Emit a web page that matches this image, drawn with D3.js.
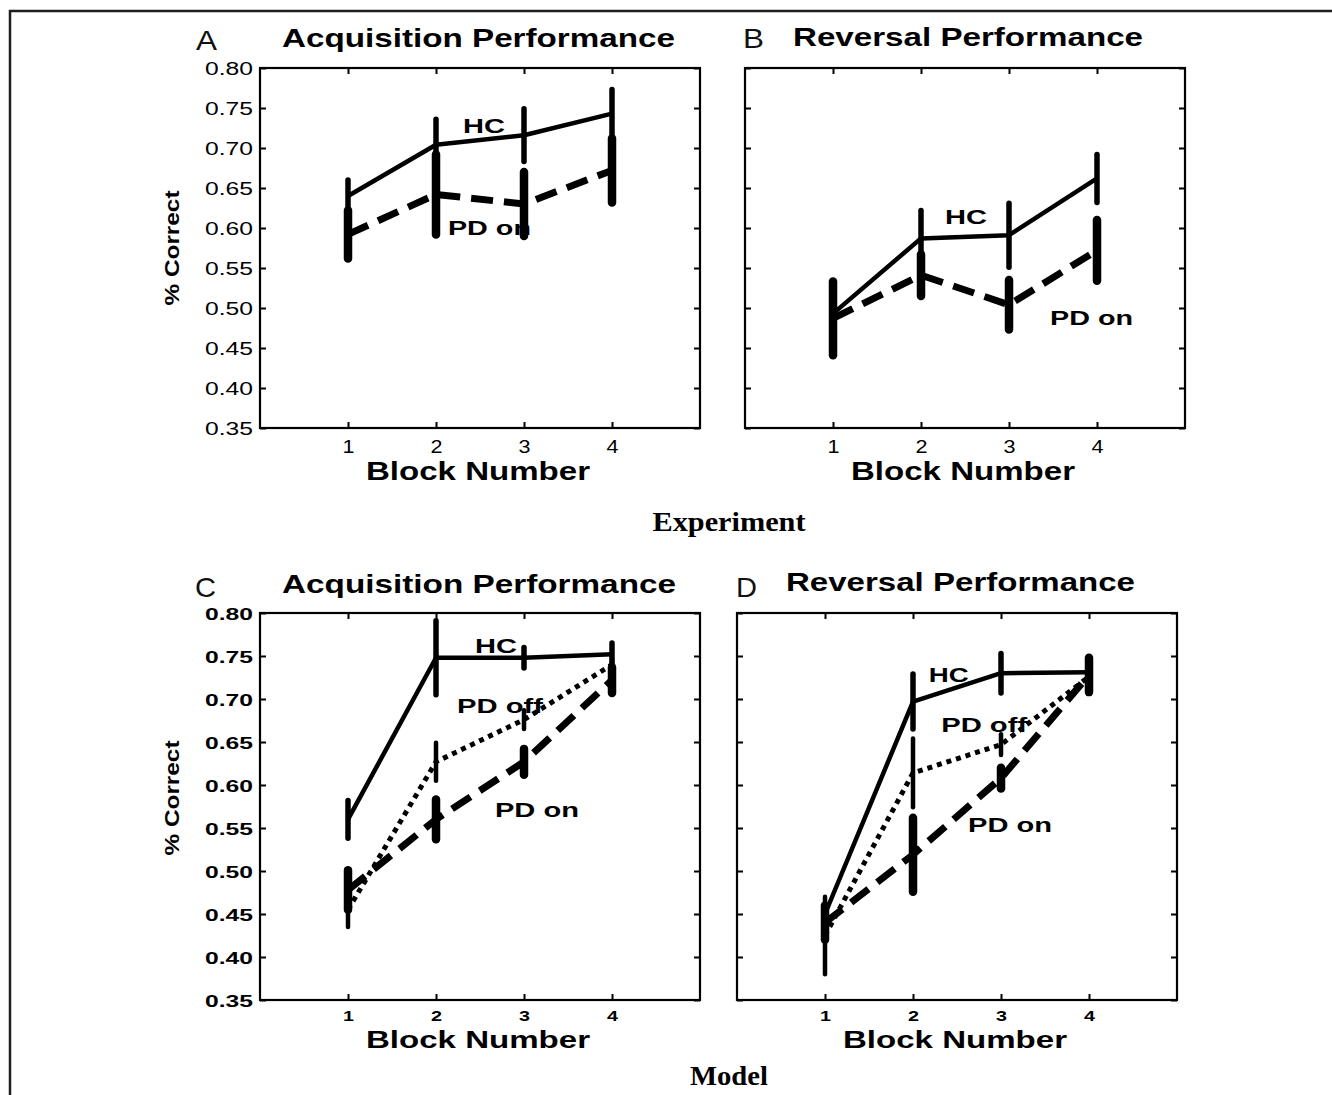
<!DOCTYPE html>
<html><head><meta charset="utf-8">
<script src="https://cdn.jsdelivr.net/npm/d3@7"></script>
<style>body{margin:0;background:#fff}svg{display:block}</style>
</head><body>
<svg id="fig" width="1332" height="1095"></svg>
<script>
// ---------- data ----------
const blocks = [1, 2, 3, 4];
const yTickValues = [0.35, 0.40, 0.45, 0.50, 0.55, 0.60, 0.65, 0.70, 0.75, 0.80];

// Experiment – Acquisition
const expAcqHC      = [0.640, 0.704, 0.716, 0.743];
const expAcqHCErr   = [0.020, 0.032, 0.033, 0.030];
const expAcqPDon    = [0.592, 0.642, 0.630, 0.672];
const expAcqPDonErr = [0.030, 0.050, 0.040, 0.040];
// Experiment – Reversal
const expRevHC      = [0.493, 0.587, 0.591, 0.662];
const expRevHCErr   = [0.040, 0.035, 0.040, 0.030];
const expRevPDon    = [0.487, 0.541, 0.504, 0.572];
const expRevPDonErr = [0.046, 0.026, 0.031, 0.038];
// Model – Acquisition
const modAcqHC       = [0.560, 0.748, 0.748, 0.752];
const modAcqHCErr    = [0.022, 0.043, 0.012, 0.013];
const modAcqPDoff    = [0.455, 0.627, 0.676, 0.740];
const modAcqPDoffErr = [0.020, 0.022, 0.011, 0.008];
const modAcqPDon     = [0.478, 0.560, 0.627, 0.722];
const modAcqPDonErr  = [0.023, 0.023, 0.015, 0.015];
// Model – Reversal
const modRevHC       = [0.450, 0.697, 0.730, 0.731];
const modRevHCErr    = [0.010, 0.032, 0.023, 0.012];
const modRevPDoff    = [0.425, 0.614, 0.647, 0.726];
const modRevPDoffErr = [0.045, 0.040, 0.012, 0.010];
const modRevPDon     = [0.440, 0.519, 0.608, 0.728];
const modRevPDonErr  = [0.020, 0.043, 0.012, 0.020];

// ---------- styles ----------
const SANS = "'Liberation Sans', Arial, sans-serif";
const SERIF = "'Liberation Serif', 'Times New Roman', serif";
const STRETCH = "spacingAndGlyphs";
const styles = {
  solid:  {w: 4.5, dash: null,    bar: 5.5},
  dashed: {w: 7,   dash: "22,11", bar: 8.5},
  dotted: {w: 5,   dash: "5,5",   bar: 4.5}
};

const svg = d3.select("#fig");
svg.append("rect").attr("width", 1332).attr("height", 1095).attr("fill", "#fff");
// outer frame
svg.append("path").attr("d", "M10,1095V11H1332")
  .attr("fill", "none").attr("stroke", "#1e1e1e").attr("stroke-width", 2.5);

const panels = [
  {letter: "A", lx: 196, ly: 50, title: "Acquisition Performance", tx: 282, ty: 47, tl: 393,
   left: 260, top: 68, w: 440, h: 360, yLabels: true, bold: false, ylab: 248,
   series: [
     {vals: expAcqHC, err: expAcqHCErr, style: "solid"},
     {vals: expAcqPDon, err: expAcqPDonErr, style: "dashed"}],
   labels: [
     {t: "HC", x: 2.307, y: 0.719, len: 42},
     {t: "PD on", x: 2.136, y: 0.591, len: 83}]},
  {letter: "B", lx: 743, ly: 48, title: "Reversal Performance", tx: 793, ty: 46, tl: 350,
   left: 745, top: 68, w: 440, h: 360, yLabels: false, bold: false,
   series: [
     {vals: expRevHC, err: expRevHCErr, style: "solid"},
     {vals: expRevPDon, err: expRevPDonErr, style: "dashed"}],
   labels: [
     {t: "HC", x: 2.273, y: 0.605, len: 42},
     {t: "PD on", x: 3.466, y: 0.479, len: 83}]},
  {letter: "C", lx: 195, ly: 597, title: "Acquisition Performance", tx: 282, ty: 593, tl: 394,
   left: 260, top: 613, w: 440, h: 387, yLabels: true, bold: true, ylab: 798,
   series: [
     {vals: modAcqHC, err: modAcqHCErr, style: "solid"},
     {vals: modAcqPDoff, err: modAcqPDoffErr, style: "dotted"},
     {vals: modAcqPDon, err: modAcqPDonErr, style: "dashed"}],
   labels: [
     {t: "HC", x: 2.443, y: 0.753, len: 42},
     {t: "PD off", x: 2.239, y: 0.684, len: 86},
     {t: "PD on", x: 2.67, y: 0.563, len: 84}]},
  {letter: "D", lx: 736, ly: 597, title: "Reversal Performance", tx: 786, ty: 591, tl: 349,
   left: 737, top: 613, w: 440, h: 387, yLabels: false, bold: true,
   series: [
     {vals: modRevHC, err: modRevHCErr, style: "solid"},
     {vals: modRevPDoff, err: modRevPDoffErr, style: "dotted"},
     {vals: modRevPDon, err: modRevPDonErr, style: "dashed"}],
   labels: [
     {t: "HC", x: 2.18, y: 0.72, len: 40},
     {t: "PD off", x: 2.32, y: 0.662, len: 86},
     {t: "PD on", x: 2.625, y: 0.545, len: 84}]}
];

panels.forEach(p => {
  const x = d3.scaleLinear().domain([0, 5]).range([0, p.w]);
  const y = d3.scaleLinear().domain([0.35, 0.80]).range([p.h, 0]);
  const g = svg.append("g").attr("transform", `translate(${p.left},${p.top})`);

  // panel letter and title
  svg.append("text").attr("x", p.lx).attr("y", p.ly).text(p.letter)
    .attr("font-family", SANS).attr("font-size", 28).attr("font-weight", "normal").attr("fill", "#111")
    .attr("textLength", 21).attr("lengthAdjust", STRETCH);
  svg.append("text").attr("x", p.tx).attr("y", p.ty).text(p.title)
    .attr("font-family", SANS).attr("font-size", 25).attr("font-weight", "bold")
    .attr("textLength", p.tl).attr("lengthAdjust", STRETCH).attr("fill", "#000");

  const tickFont = p.bold ? "bold" : "normal";
  const tickSize = p.bold ? 17 : 18;

  // left axis
  const ga = g.append("g").call(d3.axisLeft(y).tickValues(yTickValues).tickSizeInner(-6).tickSizeOuter(0)
      .tickPadding(7).tickFormat(p.yLabels ? d3.format(".2f") : () => ""));
  ga.selectAll("text").attr("font-family", SANS).attr("font-size", tickSize).attr("font-weight", tickFont)
    .attr("fill", "#000").attr("dy", "0.36em");
  if (p.yLabels) ga.selectAll("text").attr("textLength", 48).attr("lengthAdjust", STRETCH);
  // right axis
  g.append("g").attr("transform", `translate(${p.w},0)`)
    .call(d3.axisRight(y).tickValues(yTickValues).tickSizeInner(-6).tickSizeOuter(0).tickFormat(() => ""));
  // bottom axis
  const gb = g.append("g").attr("transform", `translate(0,${p.h})`)
    .call(d3.axisBottom(x).tickValues(blocks).tickSizeInner(-6).tickSizeOuter(0)
      .tickPadding(p.bold ? 10 : 12).tickFormat(d3.format("d")));
  gb.selectAll("text").attr("font-family", SANS).attr("font-size", p.bold ? 15 : 18).attr("font-weight", tickFont)
    .attr("fill", "#000").attr("textLength", p.bold ? 11 : 12).attr("lengthAdjust", STRETCH);
  // top axis
  g.append("g").call(d3.axisTop(x).tickValues(blocks).tickSizeInner(-6).tickSizeOuter(0).tickFormat(() => ""));

  g.selectAll(".domain").remove();
  g.selectAll(".tick line").attr("stroke", "#000").attr("stroke-width", 2);
  g.append("rect").attr("width", p.w).attr("height", p.h)
    .attr("fill", "none").attr("stroke", "#000").attr("stroke-width", 2.2);

  // axis titles
  g.append("text").attr("x", p.w / 2 - 2).attr("y", p.bold ? 435 : 412).text("Block Number")
    .attr("text-anchor", "middle").attr("font-family", SANS).attr("font-size", p.bold ? 24 : 25).attr("font-weight", "bold")
    .attr("textLength", 224).attr("lengthAdjust", STRETCH);
  if (p.yLabels) {
    svg.append("text").attr("transform", `translate(179,${p.ylab}) rotate(-90)`).text("% Correct")
      .attr("text-anchor", "middle").attr("font-family", SANS).attr("font-size", 21).attr("font-weight", "bold")
      .attr("textLength", 115).attr("lengthAdjust", STRETCH);
  }

  // curve labels (drawn beneath the marks)
  p.labels.forEach(l => {
    g.append("text").attr("x", x(l.x)).attr("y", y(l.y)).text(l.t)
      .attr("font-family", SANS).attr("font-size", 21).attr("font-weight", "bold")
      .attr("textLength", l.len).attr("lengthAdjust", STRETCH);
  });

  // series
  p.series.forEach(s => {
    const st = styles[s.style];
    const pts = blocks.map((b, i) => ({b, v: s.vals[i], e: s.err[i]}));
    g.append("path").datum(pts)
      .attr("d", d3.line().x(d => x(d.b)).y(d => y(d.v)))
      .attr("fill", "none").attr("stroke", "#000").attr("stroke-width", st.w)
      .attr("stroke-dasharray", st.dash).attr("stroke-linejoin", "round");
    g.selectAll(null).data(pts).enter().append("line")
      .attr("x1", d => x(d.b)).attr("x2", d => x(d.b))
      .attr("y1", d => y(d.v - d.e)).attr("y2", d => y(d.v + d.e))
      .attr("stroke", "#000").attr("stroke-width", st.bar).attr("stroke-linecap", "round");
  });
});

// group captions
svg.append("text").attr("x", 729).attr("y", 531).text("Experiment")
  .attr("text-anchor", "middle").attr("font-family", SERIF).attr("font-size", 28).attr("font-weight", "bold")
  .attr("textLength", 153).attr("lengthAdjust", STRETCH);
svg.append("text").attr("x", 729).attr("y", 1085).text("Model")
  .attr("text-anchor", "middle").attr("font-family", SERIF).attr("font-size", 27).attr("font-weight", "bold")
  .attr("textLength", 78).attr("lengthAdjust", STRETCH);
</script>
</body></html>
